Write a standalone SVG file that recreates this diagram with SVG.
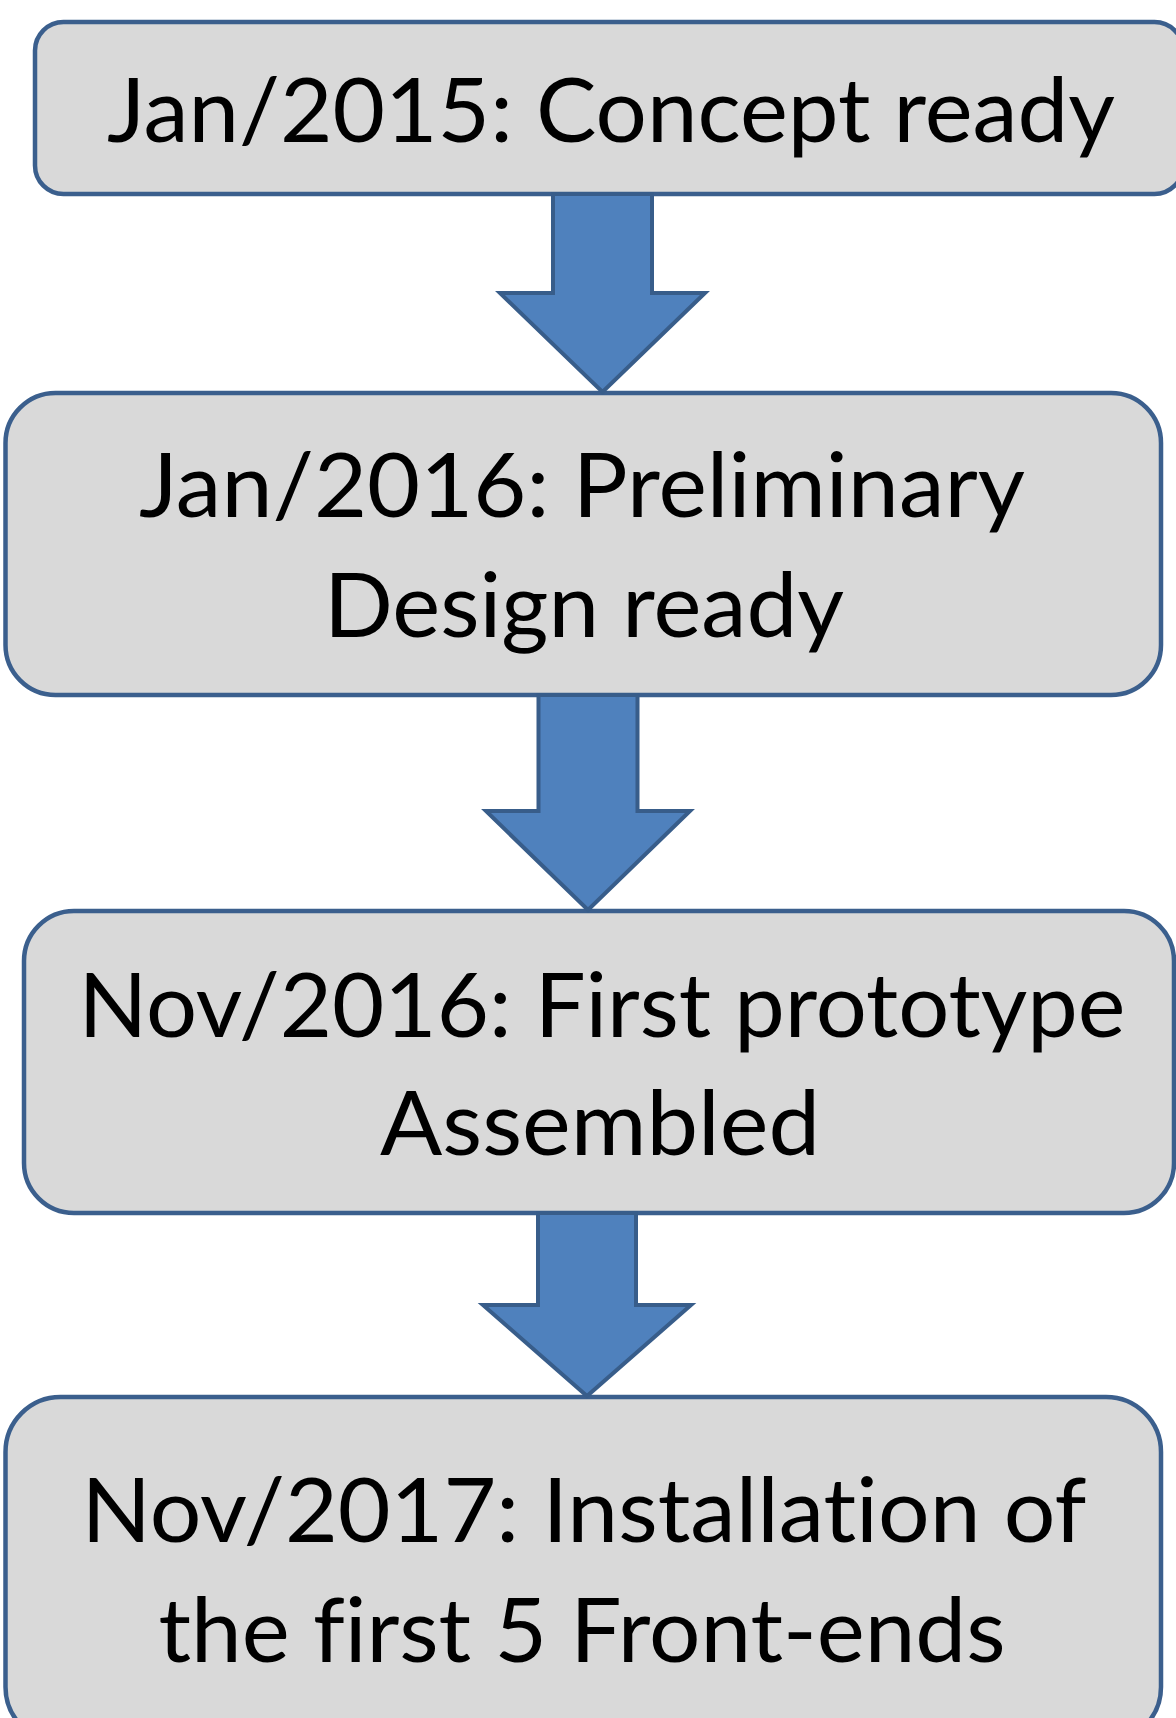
<svg xmlns="http://www.w3.org/2000/svg" width="1176" height="1718" viewBox="0 0 1176 1718">
<style>
.box{fill:#D9D9D9;stroke:#3B5F8D;stroke-width:4.5}
.arrow{fill:#4F81BD;stroke:#385D8A;stroke-width:4;stroke-linejoin:miter}
.t{font-family:Lato,"Open Sans","Liberation Sans",sans-serif;font-size:90px;fill:#000;text-anchor:middle;font-variant-ligatures:none;font-feature-settings:"liga" 0,"clig" 0}
</style>
<rect width="1176" height="1718" fill="#fff"/>
<g id="node1">
<rect class="box" x="35" y="22" width="1148" height="172" rx="28.5" ry="28.5"/>
<text class="t" x="611" y="142" textLength="1008" lengthAdjust="spacingAndGlyphs">Jan/2015: Concept ready</text>
</g>
<g id="node2">
<rect class="box" x="5.5" y="393" width="1155.5" height="302" rx="50" ry="50"/>
<text class="t" x="582" y="517" textLength="886" lengthAdjust="spacingAndGlyphs">Jan/2016: Preliminary</text>
<text class="t" x="584" y="637" textLength="520" lengthAdjust="spacingAndGlyphs">Design ready</text>
</g>
<g id="node3">
<rect class="box" x="24" y="911" width="1150" height="302" rx="50" ry="50"/>
<text class="t" x="602" y="1037" textLength="1047" lengthAdjust="spacingAndGlyphs">Nov/2016: First prototype</text>
<text class="t" x="600" y="1155" textLength="440" lengthAdjust="spacingAndGlyphs">Assembled</text>
</g>
<g id="node4">
<rect class="box" x="5.5" y="1397" width="1155.5" height="345" rx="55" ry="55"/>
<text class="t" x="584" y="1542" textLength="1005" lengthAdjust="spacingAndGlyphs">Nov/2017: Installation of</text>
<text class="t" x="582" y="1662" textLength="847" lengthAdjust="spacingAndGlyphs">the first 5 Front-ends</text>
</g>
<g id="connectors">
<path class="arrow" d="M553 194 L652 194 L652 293 L705 293 L602.5 392 L500 293 L553 293 Z"/>
<path class="arrow" d="M538.5 695 L637.5 695 L637.5 811 L690 811 L588 910 L486 811 L538.5 811 Z"/>
<path class="arrow" d="M538 1213 L636 1213 L636 1305 L691 1305 L587 1396 L483 1305 L538 1305 Z"/>
</g>
</svg>
